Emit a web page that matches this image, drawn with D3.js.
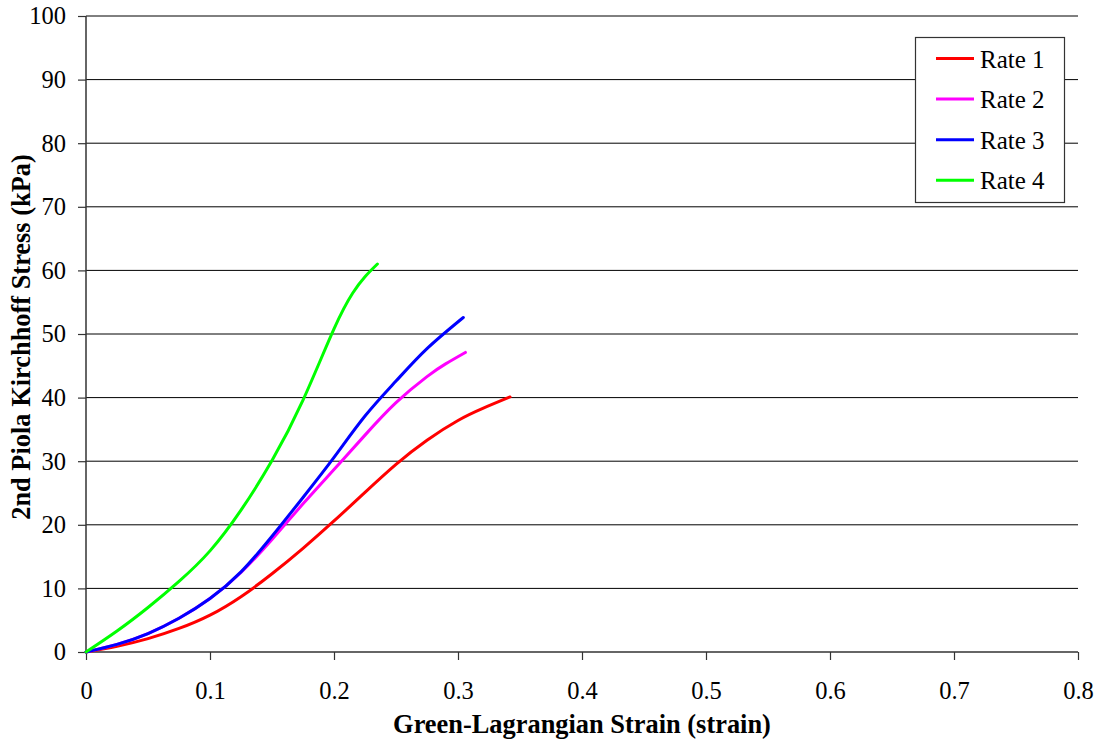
<!DOCTYPE html>
<html><head><meta charset="utf-8">
<script src="https://cdn.jsdelivr.net/npm/d3@7"></script>
<style>body{margin:0;background:#fff}svg{display:block}
svg text{font-family:"Liberation Serif","Times New Roman",Times,serif !important;}</style>
</head><body>
<svg id="c" width="1099" height="742"></svg>
<script>
const xTicks = [0,0.1,0.2,0.3,0.4,0.5,0.6,0.7,0.8];
const yTicks = [0,10,20,30,40,50,60,70,80,90,100];
const seriesNames = ["Rate 1","Rate 2","Rate 3","Rate 4"];
const seriesColors = ["#ff0000","#ff00ff","#0000ff","#00ff00"];
const rate1 = [[0,0],[0.025,0.9],[0.05,2.1],[0.075,3.7],[0.1,5.8],[0.125,8.7],[0.15,12.3],[0.175,16.3],[0.2,20.6],[0.225,25.1],[0.25,29.5],[0.275,33.3],[0.3,36.4],[0.32,38.3],[0.342,40.1]];
const rate2 = [[0,0],[0.025,1.2],[0.05,2.9],[0.075,5.3],[0.1,8.4],[0.125,12.5],[0.15,17.7],[0.175,23.3],[0.2,28.7],[0.225,34.1],[0.25,39.2],[0.275,43.3],[0.29,45.3],[0.306,47.1]];
const rate3 = [[0,0],[0.025,1.2],[0.05,2.9],[0.075,5.3],[0.1,8.4],[0.125,12.6],[0.15,18.2],[0.175,24.3],[0.2,30.6],[0.225,37.1],[0.25,42.6],[0.275,47.7],[0.3043,52.6]];
const rate4 = [[0,0],[0.025,3.3],[0.05,7.0],[0.075,11.1],[0.1,15.9],[0.125,22.3],[0.15,30.1],[0.175,39.6],[0.2,50.8],[0.215,56.4],[0.225,59.0],[0.235,61.0]];
const seriesData = [rate1, rate2, rate3, rate4];

const svg = d3.select("#c");
const L = 86, R = 1078, T = 16, B = 652;
const x = d3.scaleLinear().domain([0,0.8]).range([L,R]);
const y = d3.scaleLinear().domain([0,100]).range([B,T]);
const font = '"Liberation Serif","Times New Roman",Times,serif';

// gridlines
svg.append("g").selectAll("line").data(yTicks.filter(d=>d>0)).join("line")
  .attr("x1",L).attr("x2",R).attr("y1",d=>y(d)).attr("y2",d=>y(d))
  .attr("stroke","#000").attr("stroke-width",1);

// axes
const gx = svg.append("g").attr("transform",`translate(0,${B})`)
  .call(d3.axisBottom(x).tickValues(xTicks).tickFormat(d=>d===0?"0":d3.format(".1f")(d)).tickSize(8).tickPadding(22));
const gy = svg.append("g").attr("transform",`translate(${L},0)`)
  .call(d3.axisLeft(y).tickValues(yTicks).tickSize(8).tickPadding(12));
[gx,gy].forEach(g=>{
  g.attr("font-family",font).attr("font-size",24.5);
  g.select(".domain").attr("stroke","#333").attr("stroke-width",1.5);
  g.selectAll(".tick line").attr("stroke","#333").attr("stroke-width",1.2);
  g.selectAll("text").style("font-family",font).style("font-size","24.5px").attr("fill","#000");
});
gx.select(".domain").attr("d",`M${L},0H${R}`);
gy.select(".domain").attr("d",`M0,${B}V${T}`);

// curves
const line = d3.line().x(d=>x(d[0])).y(d=>y(d[1])).curve(d3.curveNatural);
svg.append("g").selectAll("path").data(seriesData).join("path")
  .attr("d",line).attr("fill","none").attr("stroke-linecap","round")
  .attr("stroke",(d,i)=>seriesColors[i]).attr("stroke-width",3);

// axis titles
svg.append("text").attr("x",582).attr("y",733).attr("text-anchor","middle")
  .style("font-family",font).style("font-weight","bold").style("font-size","26.4px")
  .text("Green-Lagrangian Strain (strain)");
svg.append("text").attr("transform","translate(30,337) rotate(-90)").attr("text-anchor","middle")
  .style("font-family",font).style("font-weight","bold").style("font-size","26.4px")
  .text("2nd Piola Kirchhoff Stress (kPa)");

// legend
const lg = svg.append("g");
lg.append("rect").attr("x",915.5).attr("y",37.5).attr("width",149).attr("height",165)
  .attr("fill","#fff").attr("stroke","#333").attr("stroke-width",1.2);
seriesNames.forEach((n,i)=>{
  const yy = 58.5 + i*40.6;
  lg.append("line").attr("x1",936).attr("x2",974).attr("y1",yy).attr("y2",yy)
    .attr("stroke",seriesColors[i]).attr("stroke-width",3);
  lg.append("text").attr("x",980).attr("y",yy+9).style("font-family",font).style("font-size","25px").text(n);
});
</script>
</body></html>
